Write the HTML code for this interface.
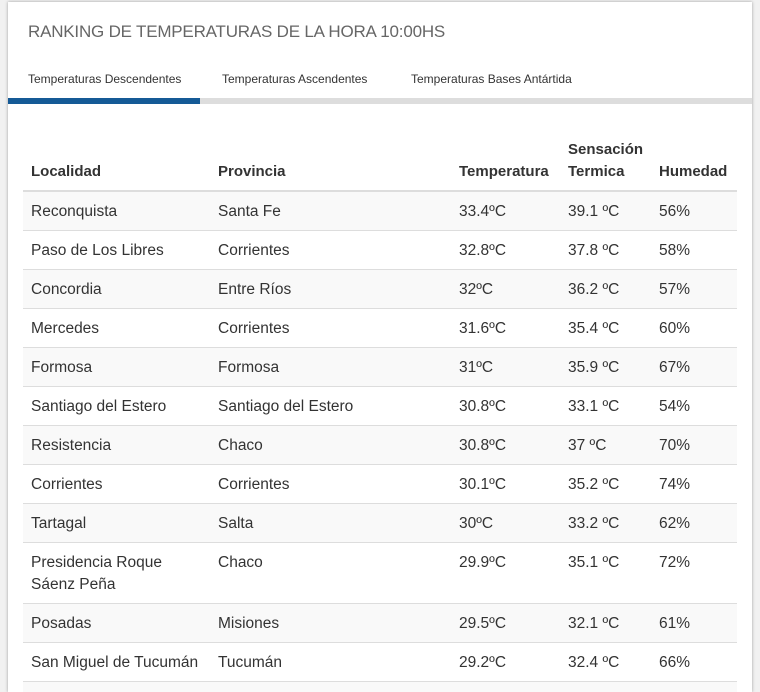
<!DOCTYPE html>
<html><head><meta charset="utf-8"><style>
*{margin:0;padding:0;box-sizing:border-box}
html,body{width:760px;height:692px;overflow:hidden}
body{background:#f1f1f1;font-family:"Liberation Sans",sans-serif;position:relative}
.card{position:absolute;left:8px;top:2px;width:744px;height:690px;background:#fff;box-shadow:0 0 3px rgba(0,0,0,.35);overflow:hidden}
.t{position:absolute;white-space:nowrap}
.title{left:20px;top:20px;font-size:17px;color:#666;letter-spacing:-0.2px}
.tab{top:70px;font-size:12px;color:#333}
.bar{position:absolute;top:96px;height:6px}
.row{position:absolute;left:15px;width:714px;border-bottom:1px solid #ddd}
.row.s{background:#f9f9f9}
.c{position:absolute;font-size:15.5px;color:#333;line-height:22px}
.h{font-weight:bold;color:#333;font-size:15px;position:absolute;line-height:22px}
</style></head><body>
<div class="card">
<div class="t title">RANKING DE TEMPERATURAS DE LA HORA 10:00HS</div>
<div class="t tab" style="left:20px">Temperaturas Descendentes</div>
<div class="t tab" style="left:214px">Temperaturas Ascendentes</div>
<div class="t tab" style="left:403px">Temperaturas Bases Antártida</div>
<div class="bar" style="left:192px;width:552px;background:#ddd"></div>
<div class="bar" style="left:0;width:192px;background:#155a96"></div>

<div class="h" style="left:23px;top:159px">Localidad</div>
<div class="h" style="left:210px;top:159px">Provincia</div>
<div class="h" style="left:451px;top:159px">Temperatura</div>
<div class="h" style="left:560px;top:137px">Sensación<br>Termica</div>
<div class="h" style="left:651px;top:159px">Humedad</div>
<div style="position:absolute;left:15px;top:188px;width:714px;height:2px;background:#ddd"></div>
<div id="rows"></div>
</div>
<script>
var d=[["Reconquista","Santa Fe","33.4ºC","39.1 ºC","56%"],
["Paso de Los Libres","Corrientes","32.8ºC","37.8 ºC","58%"],
["Concordia","Entre Ríos","32ºC","36.2 ºC","57%"],
["Mercedes","Corrientes","31.6ºC","35.4 ºC","60%"],
["Formosa","Formosa","31ºC","35.9 ºC","67%"],
["Santiago del Estero","Santiago del Estero","30.8ºC","33.1 ºC","54%"],
["Resistencia","Chaco","30.8ºC","37 ºC","70%"],
["Corrientes","Corrientes","30.1ºC","35.2 ºC","74%"],
["Tartagal","Salta","30ºC","33.2 ºC","62%"],
["Presidencia Roque<br>Sáenz Peña","Chaco","29.9ºC","35.1 ºC","72%"],
["Posadas","Misiones","29.5ºC","32.1 ºC","61%"],
["San Miguel de Tucumán","Tucumán","29.2ºC","32.4 ºC","66%"],
["","","","",""]];
var xs=[8,195,436,545,636],y=190,h="";
d.forEach(function(r,i){var hh=i==9?61:39;
h+='<div class="row'+(i%2==0?' s':'')+'" style="top:'+y+'px;height:'+hh+'px">';
r.forEach(function(v,j){h+='<div class="c" style="left:'+xs[j]+'px;top:9px">'+v+'</div>'});
h+='</div>';y+=hh;});
document.getElementById('rows').innerHTML=h;
</script>
</body></html>
